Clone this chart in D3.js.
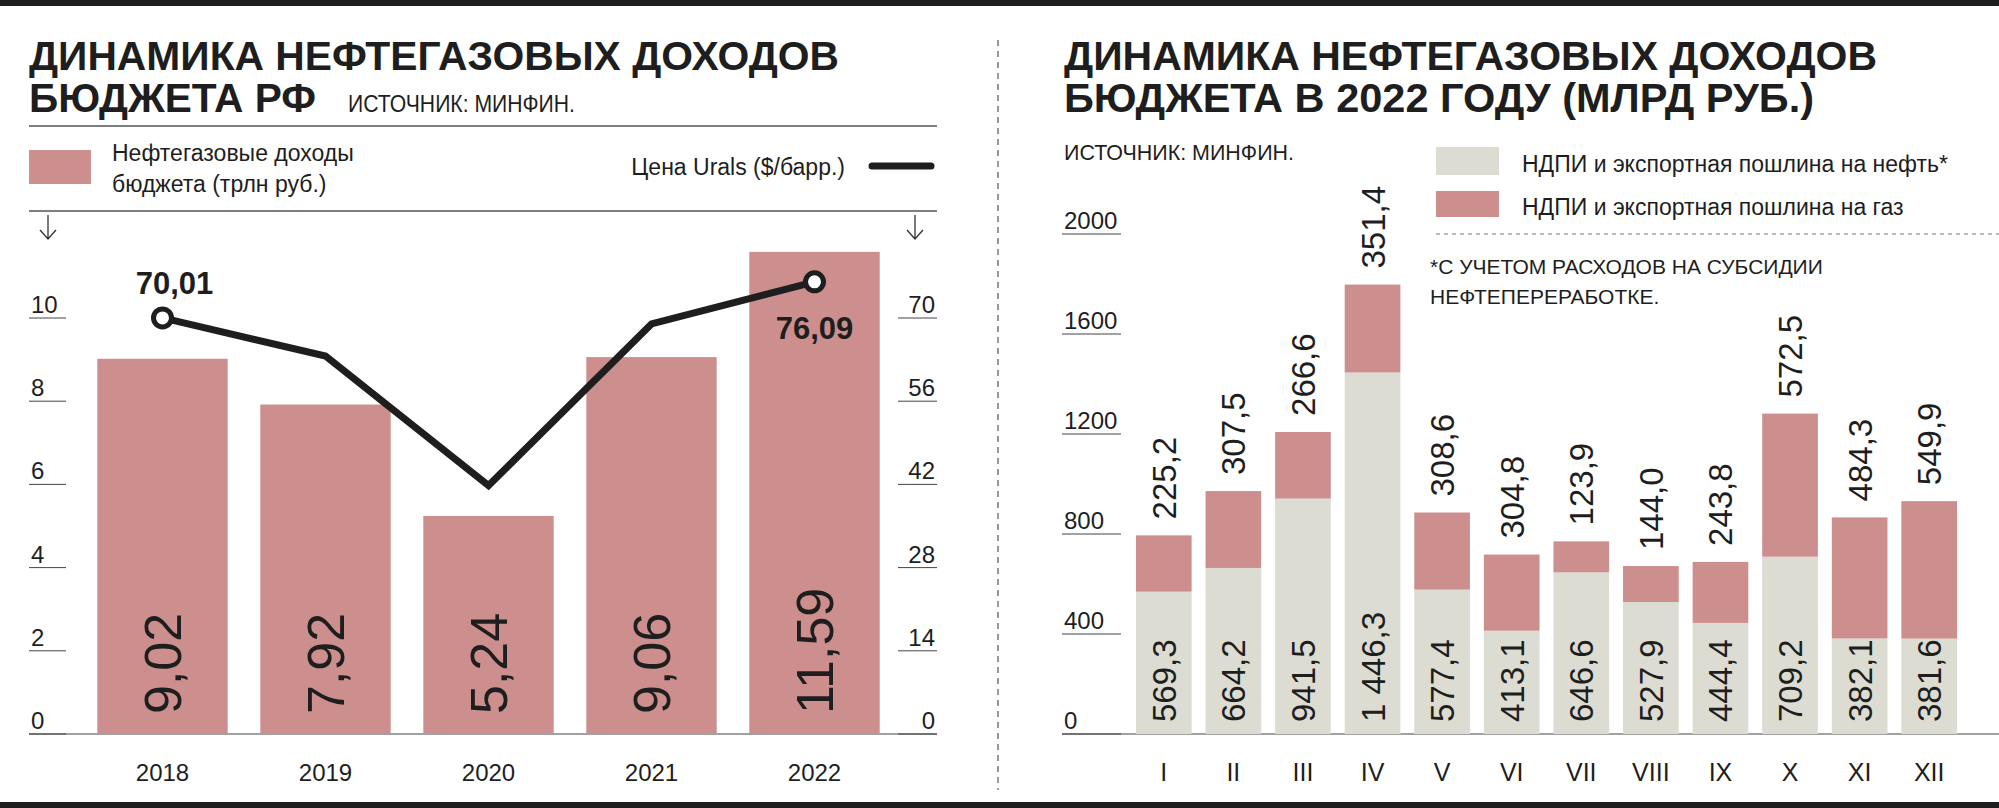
<!DOCTYPE html>
<html><head><meta charset="utf-8">
<script src="https://cdn.jsdelivr.net/npm/d3@7"></script>
<style>body{margin:0;background:#fff}svg{display:block}</style>
</head><body>
<script>
const years = ["2018","2019","2020","2021","2022"];
const revenue = [9.02, 7.92, 5.24, 9.06, 11.59];
const urals = [70.01, 63.6, 41.8, 69.0, 76.09];
const revLabels = ["9,02","7,92","5,24","9,06","11,59"];
const leftTicks = [0,2,4,6,8,10];
const rightTicks = [0,14,28,42,56,70];

const months = ["I","II","III","IV","V","VI","VII","VIII","IX","X","XI","XII"];
const oil = [569.3,664.2,941.5,1446.3,577.4,413.1,646.6,527.9,444.4,709.2,382.1,381.6];
const gas = [225.2,307.5,266.6,351.4,308.6,304.8,123.9,144.0,243.8,572.5,484.3,549.9];
const oilLabels = ["569,3","664,2","941,5","1 446,3","577,4","413,1","646,6","527,9","444,4","709,2","382,1","381,6"];
const gasLabels = ["225,2","307,5","266,6","351,4","308,6","304,8","123,9","144,0","243,8","572,5","484,3","549,9"];
const monthTicks = [0,400,800,1200,1600,2000];

const PINK="#cc8f8e", GREY="#dcdcd2", INK="#1e1e1e";
const NARROW="'Liberation Sans Narrow','Arial Narrow',sans-serif";
const SANS="'Liberation Sans',Arial,sans-serif";

const svg=d3.select("body").append("svg").attr("width",1999).attr("height",808);
svg.append("rect").attr("x",0).attr("y",0).attr("width",1999).attr("height",6).attr("fill",INK);
svg.append("rect").attr("x",0).attr("y",802).attr("width",1999).attr("height",6).attr("fill",INK);
svg.append("line").attr("x1",998).attr("x2",998).attr("y1",40).attr("y2",790).attr("stroke","#777").attr("stroke-width",1.5).attr("stroke-dasharray","6,5");

function txt(x,y,s,size,opt={}){
  const t=svg.append("text").attr("x",x).attr("y",y).text(s).attr("font-size",size)
   .attr("font-family",opt.family||NARROW).attr("fill",opt.fill||INK)
   .attr("font-weight",opt.weight||"normal").attr("text-anchor",opt.anchor||"start");
  if(opt.len) t.attr("textLength",opt.len).attr("lengthAdjust","spacingAndGlyphs");
  return t;
}
// ---------- Left chart
txt(29,70,"ДИНАМИКА НЕФТЕГАЗОВЫХ ДОХОДОВ",41,{weight:"bold",len:810});
txt(29,112,"БЮДЖЕТА РФ",41,{weight:"bold",len:287});
txt(348,112,"ИСТОЧНИК: МИНФИН.",24,{len:227});
svg.append("line").attr("x1",29).attr("x2",937).attr("y1",126).attr("y2",126).attr("stroke","#555").attr("stroke-width",1.5);
svg.append("rect").attr("x",29).attr("y",150).attr("width",62).attr("height",34).attr("fill",PINK);
txt(112,161,"Нефтегазовые доходы",23);
txt(112,192,"бюджета (трлн руб.)",23);
txt(845,175,"Цена Urals ($/барр.)",23,{anchor:"end"});
svg.append("line").attr("x1",872).attr("x2",931).attr("y1",166).attr("y2",166).attr("stroke",INK).attr("stroke-width",7).attr("stroke-linecap","round");
svg.append("line").attr("x1",29).attr("x2",937).attr("y1",211).attr("y2",211).attr("stroke","#555").attr("stroke-width",1.5);
[48,915].forEach(x=>{
  svg.append("path").attr("d",`M${x},215 V238 M${x-8},230 L${x},239 L${x+8},230`).attr("fill","none").attr("stroke","#333").attr("stroke-width",1.3);
});
const xL=d3.scaleBand().domain(years).range([81,896]).paddingInner(0.2).paddingOuter(0.1);
const yL=d3.scaleLinear().domain([0,10]).range([734,318]);
const yR=d3.scaleLinear().domain([0,70]).range([734,318]);
leftTicks.forEach(v=>{
  svg.append("line").attr("x1",29).attr("x2",66).attr("y1",yL(v)).attr("y2",yL(v)).attr("stroke","#444");
  txt(31,yL(v)-5,String(v),24);
});
rightTicks.forEach(v=>{
  svg.append("line").attr("x1",898).attr("x2",937).attr("y1",yR(v)).attr("y2",yR(v)).attr("stroke","#444");
  txt(935,yR(v)-5,String(v),24,{anchor:"end"});
});
svg.append("line").attr("x1",29).attr("x2",937).attr("y1",734).attr("y2",734).attr("stroke","#444");
svg.selectAll(".lb").data(years).enter().append("rect")
 .attr("x",d=>xL(d)).attr("width",xL.bandwidth()).attr("y",(d,i)=>yL(revenue[i])).attr("height",(d,i)=>yL(0)-yL(revenue[i])).attr("fill",PINK);
years.forEach((d,i)=>{
  const cx=xL(d)+xL.bandwidth()/2;
  svg.append("text").attr("transform",`translate(${cx+18},714) rotate(-90)`).text(revLabels[i])
   .attr("font-family",SANS).attr("font-size",52).attr("fill",INK);
  txt(cx,781,d,24,{anchor:"middle"});
});
const line=d3.line().x((d,i)=>xL(years[i])+xL.bandwidth()/2).y(d=>yR(d));
svg.append("path").datum(urals).attr("d",line).attr("fill","none").attr("stroke",INK).attr("stroke-width",7);
[0,4].forEach(i=>{
  svg.append("circle").attr("cx",xL(years[i])+xL.bandwidth()/2).attr("cy",yR(urals[i])).attr("r",9).attr("fill","#fff").attr("stroke",INK).attr("stroke-width",5);
});
txt(xL(years[0])+xL.bandwidth()/2+12,294,"70,01",31,{family:SANS,weight:"bold",anchor:"middle"});
txt(xL(years[4])+xL.bandwidth()/2,339,"76,09",31,{family:SANS,weight:"bold",anchor:"middle"});

// ---------- Right chart
txt(1064,70,"ДИНАМИКА НЕФТЕГАЗОВЫХ ДОХОДОВ",41,{weight:"bold",len:813});
txt(1064,112,"БЮДЖЕТА В 2022 ГОДУ (МЛРД РУБ.)",41,{weight:"bold",len:750});
txt(1064,160,"ИСТОЧНИК: МИНФИН.",22,{len:230});
svg.append("rect").attr("x",1436).attr("y",147).attr("width",63).attr("height",28).attr("fill",GREY);
svg.append("rect").attr("x",1436).attr("y",191).attr("width",63).attr("height",26).attr("fill",PINK);
txt(1522,172,"НДПИ и экспортная пошлина на нефть*",23);
txt(1522,215,"НДПИ и экспортная пошлина на газ",23);
svg.append("line").attr("x1",1436).attr("x2",1999).attr("y1",234).attr("y2",234).attr("stroke","#777").attr("stroke-width",1.2).attr("stroke-dasharray","4,4");
txt(1430,274,"*С УЧЕТОМ РАСХОДОВ НА СУБСИДИИ",21);
txt(1430,304,"НЕФТЕПЕРЕРАБОТКЕ.",21);
const xM=d3.scaleBand().domain(months).range([1129,1964]).paddingInner(0.2).paddingOuter(0.1);
const yM=d3.scaleLinear().domain([0,2000]).range([734,234]);
monthTicks.forEach(v=>{
  svg.append("line").attr("x1",1062).attr("x2",1121).attr("y1",yM(v)).attr("y2",yM(v)).attr("stroke","#444");
  txt(1064,yM(v)-5,String(v),24);
});
svg.append("line").attr("x1",1062).attr("x2",1999).attr("y1",734).attr("y2",734).attr("stroke","#444");
svg.selectAll(".oil").data(months).enter().append("rect")
 .attr("x",d=>xM(d)).attr("width",xM.bandwidth()).attr("y",(d,i)=>yM(oil[i])).attr("height",(d,i)=>yM(0)-yM(oil[i])).attr("fill",GREY);
svg.selectAll(".gas").data(months).enter().append("rect")
 .attr("x",d=>xM(d)).attr("width",xM.bandwidth()).attr("y",(d,i)=>yM(oil[i]+gas[i])).attr("height",(d,i)=>yM(oil[i])-yM(oil[i]+gas[i])).attr("fill",PINK);
months.forEach((d,i)=>{
  const cx=xM(d)+xM.bandwidth()/2;
  svg.append("text").attr("transform",`translate(${cx+12},722) rotate(-90)`).text(oilLabels[i])
   .attr("font-family",SANS).attr("font-size",33).attr("fill",INK);
  svg.append("text").attr("transform",`translate(${cx+12},${yM(oil[i]+gas[i])-16}) rotate(-90)`).text(gasLabels[i])
   .attr("font-family",SANS).attr("font-size",33).attr("fill",INK);
  txt(cx,781,d,25,{anchor:"middle"});
});
</script>
</body></html>
